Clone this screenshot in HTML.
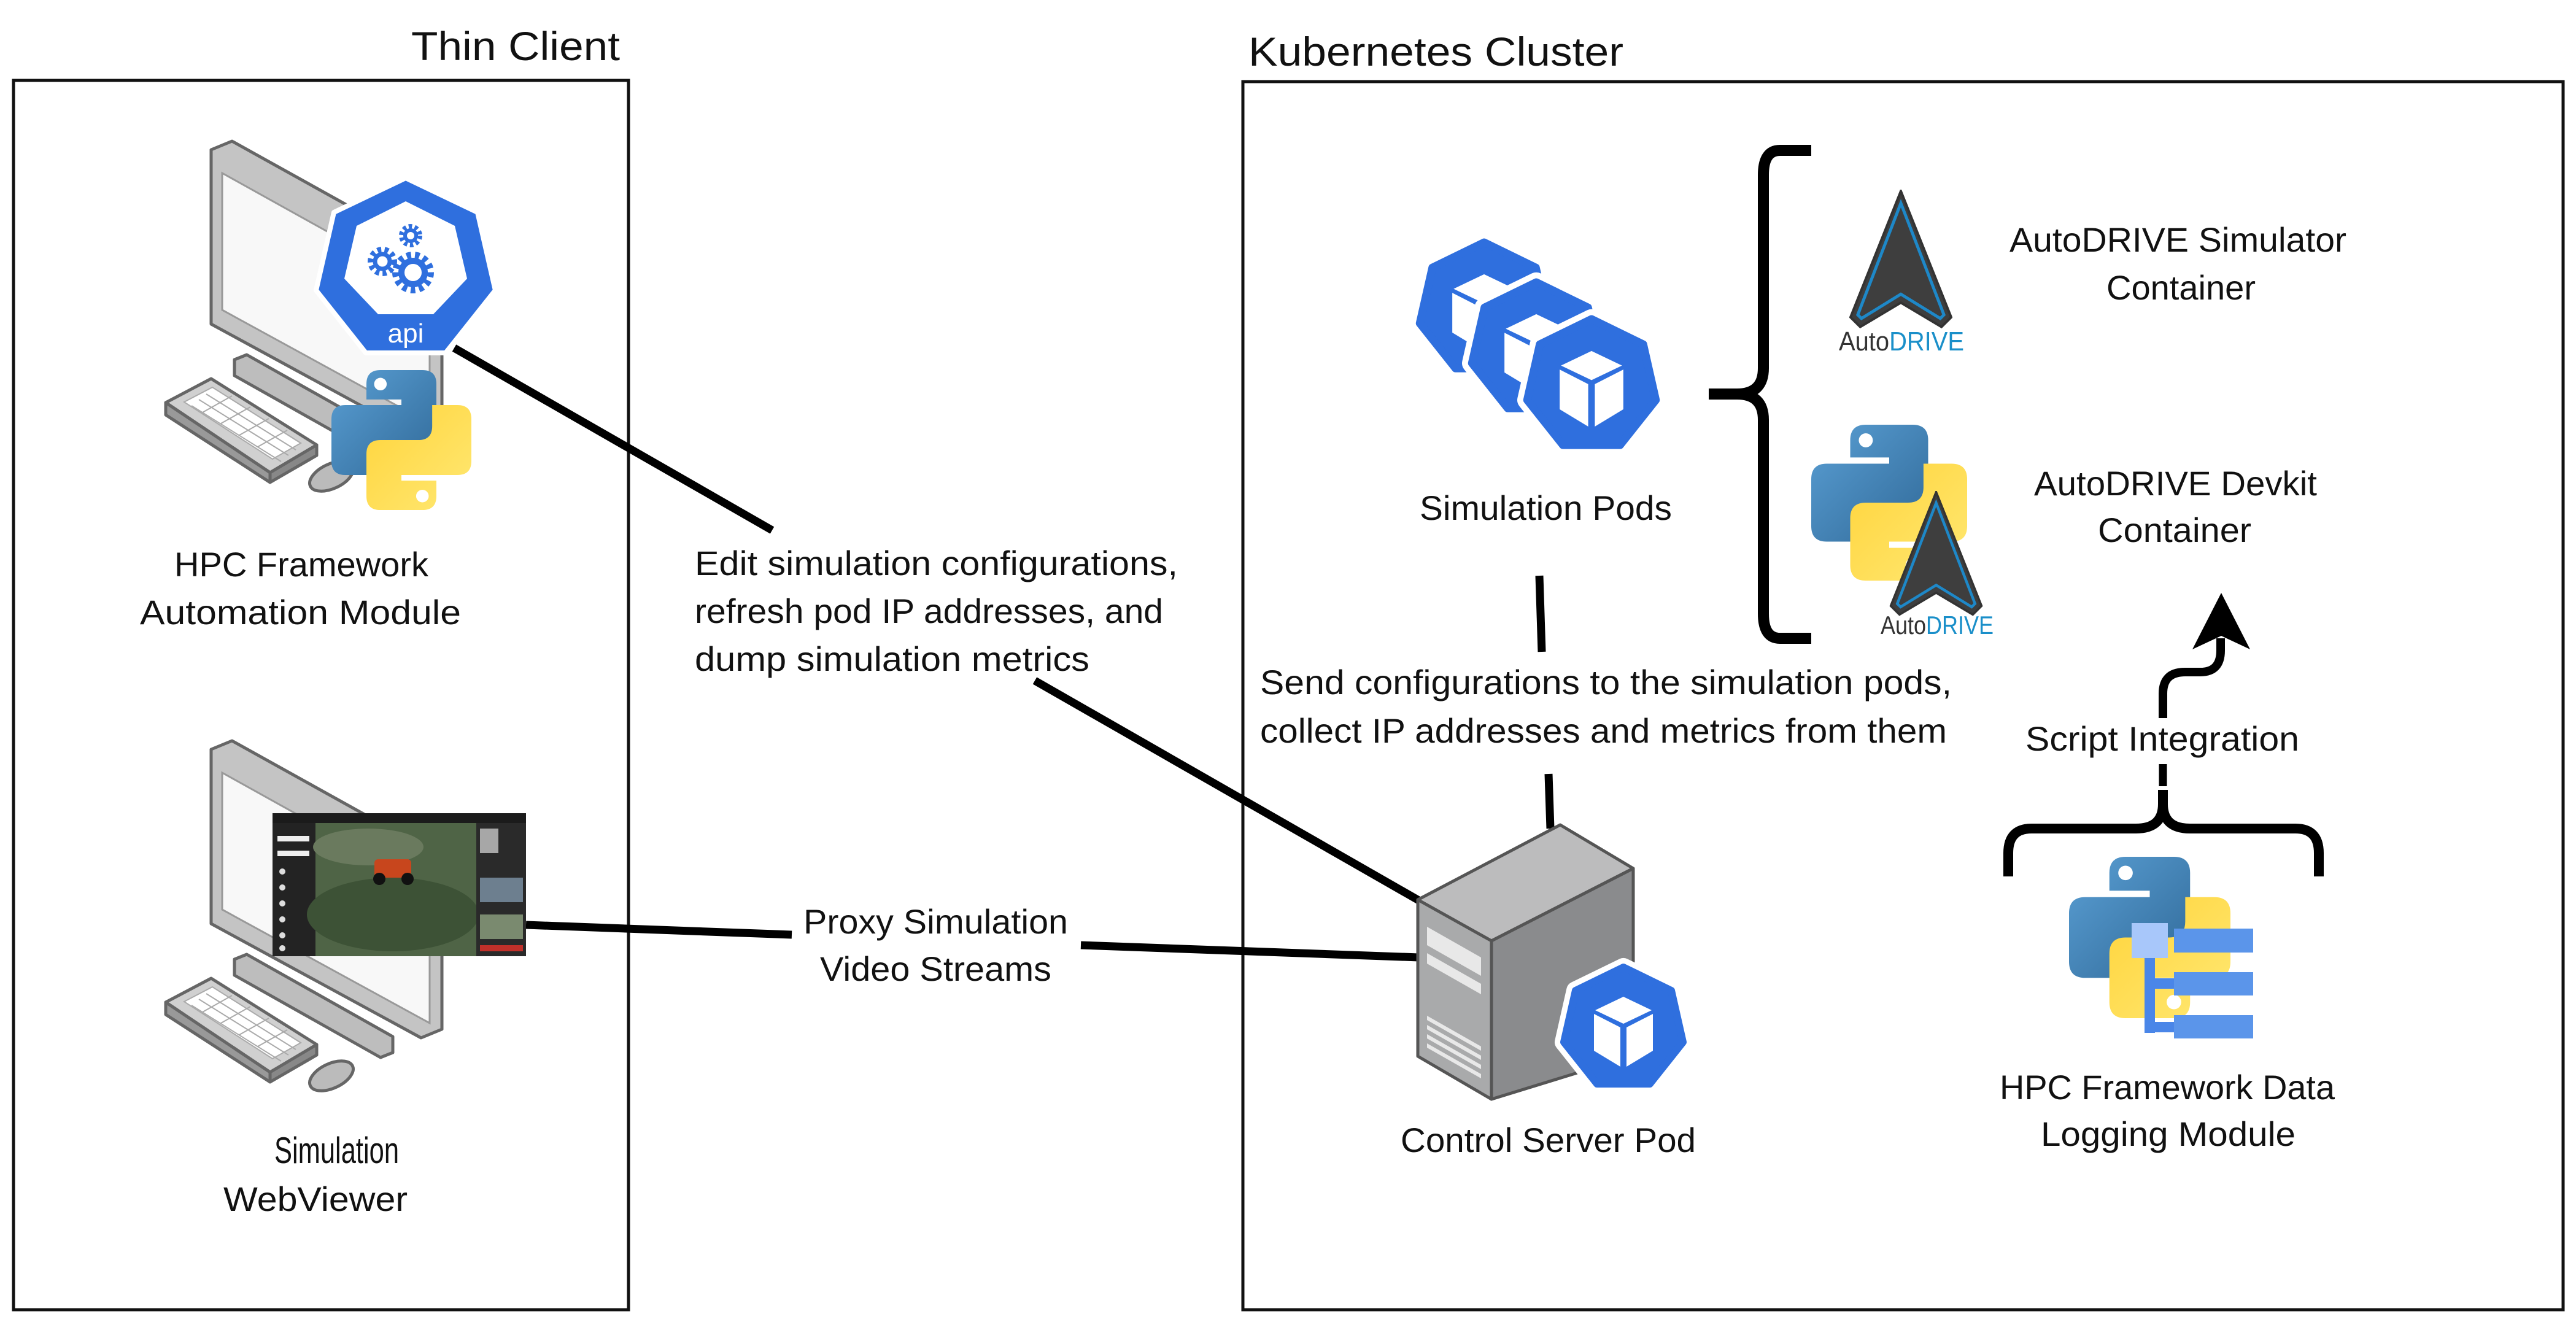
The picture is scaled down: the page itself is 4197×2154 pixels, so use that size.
<!DOCTYPE html>
<html><head><meta charset="utf-8"><style>
html,body{margin:0;padding:0;background:#fff;}
svg{display:block;}
text{font-family:"Liberation Sans",sans-serif;fill:#111;}
</style></head><body>
<svg width="4197" height="2154" viewBox="0 0 4197 2154" xmlns="http://www.w3.org/2000/svg">
<defs>
<linearGradient id="pb" x1="0" y1="0" x2="1" y2="1"><stop offset="0" stop-color="#5a9fd4"/><stop offset="1" stop-color="#306998"/></linearGradient>
<linearGradient id="py" x1="0" y1="0" x2="1" y2="1"><stop offset="0" stop-color="#ffe873"/><stop offset="1" stop-color="#ffd43b"/></linearGradient>
<symbol id="python" viewBox="0 0 100 100">
<path fill="url(#pb)" d="M35,0 H65 Q75,0 75,10 V40 Q75,50 65,50 H38 Q28,50 28,60 V75 H10 Q0,75 0,65 V35 Q0,25 10,25 H50 V21 H25 V10 Q25,0 35,0 Z"/>
<circle cx="35" cy="10" r="4.5" fill="#fff"/>
<g transform="rotate(180 50 50)"><path fill="url(#py)" d="M35,0 H65 Q75,0 75,10 V40 Q75,50 65,50 H38 Q28,50 28,60 V75 H10 Q0,75 0,65 V35 Q0,25 10,25 H50 V21 H25 V10 Q25,0 35,0 Z"/><circle cx="35" cy="10" r="4.5" fill="#fff"/></g>
</symbol>
<symbol id="podw" viewBox="-125 -125 250 250">
<polygon points="0,-100 78,-62 97,22 43,90 -43,90 -97,22 -78,-62" fill="#2f6fde" stroke="#fff" stroke-width="30" stroke-linejoin="round"/>
<polygon points="0,-100 78,-62 97,22 43,90 -43,90 -97,22 -78,-62" fill="#2f6fde" stroke="#2f6fde" stroke-width="12" stroke-linejoin="round"/>
<polygon points="0,-52 46,-30 0,-8 -46,-30" fill="#fff"/>
<polygon points="-48,-24 -5,-2 -5,62 -48,36" fill="#fff"/>
<polygon points="5,-2 48,-24 48,36 5,62" fill="#fff"/>
</symbol>
<symbol id="arrowAD" viewBox="0 0 170 230">
<polygon points="85,2 168,210 152,226 85,186 18,226 2,210" fill="#3e3e3e" stroke="#333" stroke-width="4"/>
<polygon points="85,22 156,206 150,212 85,172 20,212 14,206" fill="none" stroke="#1e88c8" stroke-width="5"/>
</symbol>
<g id="computer">
<polygon points="344,244 378,230 720,420 720,700 686,714 344,528" fill="#c4c4c4" stroke="#666" stroke-width="5" stroke-linejoin="round"/>
<polygon points="362,282 700,470 700,690 362,505" fill="#f8f8f8" stroke="#999" stroke-width="3"/>
<polygon points="382,586 402,578 640,712 640,738 620,746 382,612" fill="#bdbdbd" stroke="#666" stroke-width="5" stroke-linejoin="round"/>
<polygon points="270,656 344,617 516,725 440,770" fill="#d0d0d0" stroke="#666" stroke-width="5" stroke-linejoin="round"/>
<polygon points="270,656 440,770 440,786 270,676" fill="#999" stroke="#666" stroke-width="5" stroke-linejoin="round"/>
<polygon points="440,770 516,725 516,742 440,786" fill="#888" stroke="#666" stroke-width="5" stroke-linejoin="round"/>
<polygon points="300,655 346,631 490,722 444,748" fill="#fff" stroke="#aaa" stroke-width="2"/>
<path d="M312,661 L458,752 M324,651 L470,742 M336,642 L482,733 M330,672 L378,645 M360,690 L408,663 M390,709 L438,682 M420,728 L468,701" stroke="#aaa" stroke-width="2"/>
<ellipse cx="540" cy="776" rx="38" ry="20" transform="rotate(-25 540 776)" fill="#bbb" stroke="#666" stroke-width="5"/>
</g>
</defs>

<rect x="22" y="131" width="1002" height="2003" fill="none" stroke="#111" stroke-width="5"/>
<rect x="2025" y="133" width="2151" height="2001" fill="none" stroke="#111" stroke-width="5"/>
<text x="670" y="98" font-size="66" textLength="340" lengthAdjust="spacingAndGlyphs">Thin Client</text>
<text x="2034" y="107" font-size="66" textLength="611" lengthAdjust="spacingAndGlyphs">Kubernetes Cluster</text>

<g stroke="#000" stroke-width="13" fill="none">
<line x1="740" y1="567" x2="1258" y2="864"/>
<line x1="1686" y1="1109" x2="2315" y2="1469"/>
<line x1="857" y1="1507" x2="1290" y2="1523"/>
<line x1="1761" y1="1540" x2="2312" y2="1560"/>
<line x1="2508" y1="938" x2="2512" y2="1062"/>
<line x1="2523" y1="1261" x2="2526" y2="1350"/>
</g>

<use href="#computer"/>
<g transform="translate(661,440)">
<polygon points="0,-150 117,-94 146,33 65,135 -65,135 -146,33 -117,-94" fill="#2f6fde" stroke="#fff" stroke-width="8" stroke-linejoin="round"/>
<polygon points="0,-112 80,-72 100,14 45,72 -45,72 -100,14 -80,-72" fill="#fff"/>
<g fill="none" stroke="#2f6fde">
<circle cx="-38" cy="-14" r="18" stroke-width="12" stroke-dasharray="6 5"/>
<circle cx="-38" cy="-14" r="12" stroke-width="7"/>
<circle cx="8" cy="-56" r="14" stroke-width="10" stroke-dasharray="5 4"/>
<circle cx="8" cy="-56" r="9" stroke-width="6"/>
<circle cx="12" cy="4" r="27" stroke-width="14" stroke-dasharray="7 6"/>
<circle cx="12" cy="4" r="19" stroke-width="10"/>
</g>
<text x="0" y="118" font-size="44" text-anchor="middle" style="fill:#fff">api</text>
</g>
<use href="#python" x="540" y="603" width="228" height="228"/>
<text x="284" y="939" font-size="56" textLength="414" lengthAdjust="spacingAndGlyphs">HPC Framework</text>
<text x="228" y="1017" font-size="56" textLength="523" lengthAdjust="spacingAndGlyphs">Automation Module</text>

<g transform="translate(0,977)"><use href="#computer"/></g>
<g>
<rect x="444" y="1325" width="413" height="233" fill="#2a2f2a"/>
<rect x="444" y="1325" width="413" height="16" fill="#1b1b1b"/>
<rect x="444" y="1341" width="70" height="217" fill="#232323"/>
<rect x="452" y="1362" width="52" height="9" fill="#eee"/>
<rect x="452" y="1386" width="52" height="9" fill="#eee"/>
<circle cx="460" cy="1420" r="5" fill="#ddd"/><circle cx="460" cy="1446" r="5" fill="#ddd"/><circle cx="460" cy="1472" r="5" fill="#ddd"/><circle cx="460" cy="1498" r="5" fill="#ddd"/><circle cx="460" cy="1524" r="5" fill="#ddd"/><circle cx="460" cy="1545" r="5" fill="#ddd"/>
<rect x="514" y="1341" width="262" height="217" fill="#4f6446"/>
<ellipse cx="640" cy="1490" rx="140" ry="60" fill="#3d5236"/>
<ellipse cx="600" cy="1380" rx="90" ry="30" fill="#6a7a5e"/>
<rect x="610" y="1400" width="60" height="30" rx="6" fill="#c8461d"/>
<circle cx="618" cy="1432" r="10" fill="#111"/><circle cx="664" cy="1432" r="10" fill="#111"/>
<rect x="776" y="1341" width="81" height="217" fill="#2a2a2a"/>
<rect x="782" y="1350" width="30" height="40" fill="#ddd" opacity=".7"/>
<rect x="782" y="1430" width="70" height="40" fill="#6d7f8f"/>
<rect x="782" y="1490" width="70" height="40" fill="#7a8a6f"/>
<rect x="782" y="1540" width="70" height="10" fill="#c0302a"/>
</g>
<text x="447" y="1895" font-size="60" textLength="203" lengthAdjust="spacingAndGlyphs">Simulation</text>
<text x="364" y="1973" font-size="56" textLength="300" lengthAdjust="spacingAndGlyphs">WebViewer</text>

<text x="1132" y="937" font-size="56" textLength="787" lengthAdjust="spacingAndGlyphs">Edit simulation configurations,</text>
<text x="1132" y="1015" font-size="56" textLength="763" lengthAdjust="spacingAndGlyphs">refresh pod IP addresses, and</text>
<text x="1132" y="1093" font-size="56" textLength="643" lengthAdjust="spacingAndGlyphs">dump simulation metrics</text>
<text x="1309" y="1521" font-size="56" textLength="431" lengthAdjust="spacingAndGlyphs">Proxy Simulation</text>
<text x="1336" y="1598" font-size="56" textLength="377" lengthAdjust="spacingAndGlyphs">Video Streams</text>
<text x="2053" y="1131" font-size="56" textLength="1127" lengthAdjust="spacingAndGlyphs">Send configurations to the simulation pods,</text>
<text x="2053" y="1210" font-size="56" textLength="1119" lengthAdjust="spacingAndGlyphs">collect IP addresses and metrics from them</text>

<use href="#podw" x="2283" y="368" width="270" height="270"/>
<use href="#podw" x="2368" y="433" width="270" height="270"/>
<use href="#podw" x="2458" y="493" width="270" height="270"/>
<text x="2313" y="847" font-size="56" textLength="411" lengthAdjust="spacingAndGlyphs">Simulation Pods</text>

<path d="M2951,245 H2900 Q2873,245 2873,285 V600 Q2873,642 2830,642 H2784 M2830,642 Q2873,642 2873,684 V1000 Q2873,1040 2900,1040 H2951" fill="none" stroke="#000" stroke-width="18"/>

<use href="#arrowAD" x="3013" y="309" width="168" height="228"/>
<text x="2996" y="571" font-size="44" textLength="204" lengthAdjust="spacingAndGlyphs"><tspan style="fill:#333">Auto</tspan><tspan style="fill:#1a8fc9">DRIVE</tspan></text>
<text x="3274" y="410" font-size="56" textLength="549" lengthAdjust="spacingAndGlyphs">AutoDRIVE Simulator</text>
<text x="3432" y="488" font-size="56" textLength="243" lengthAdjust="spacingAndGlyphs">Container</text>

<use href="#python" x="2951" y="691" width="254" height="256"/>
<use href="#arrowAD" x="3078" y="800" width="153" height="205"/>
<text x="3064" y="1033" font-size="42" textLength="184" lengthAdjust="spacingAndGlyphs"><tspan style="fill:#333">Auto</tspan><tspan style="fill:#1a8fc9">DRIVE</tspan></text>
<text x="3314" y="807" font-size="56" textLength="461" lengthAdjust="spacingAndGlyphs">AutoDRIVE Devkit</text>
<text x="3418" y="883" font-size="56" textLength="250" lengthAdjust="spacingAndGlyphs">Container</text>

<path d="M3524,1170 V1130 Q3524,1095 3560,1095 H3585 Q3618,1095 3618,1060 V1040" fill="none" stroke="#000" stroke-width="14"/>
<polygon points="3619,966 3666,1058 3619,1036 3572,1058" fill="#000"/>
<text x="3300" y="1223" font-size="56" textLength="446" lengthAdjust="spacingAndGlyphs">Script Integration</text>
<line x1="3524" y1="1245" x2="3524" y2="1281" stroke="#000" stroke-width="13"/>
<path d="M3272,1428 V1390 Q3272,1350 3310,1350 H3480 Q3524,1350 3524,1310 V1287 M3524,1310 Q3524,1350 3568,1350 H3740 Q3778,1350 3778,1390 V1428" fill="none" stroke="#000" stroke-width="16"/>

<use href="#python" x="3371" y="1392" width="263" height="271"/>
<rect x="3473" y="1504" width="59" height="57" fill="#a8c7fa"/>
<rect x="3494" y="1561" width="17" height="122" fill="#4a86e8"/>
<rect x="3511" y="1594" width="31" height="17" fill="#4a86e8"/>
<rect x="3494" y="1665" width="48" height="17" fill="#4a86e8"/>
<rect x="3542" y="1513" width="129" height="39" fill="#5b95ea"/>
<rect x="3542" y="1584" width="129" height="38" fill="#5b95ea"/>
<rect x="3542" y="1654" width="129" height="38" fill="#5b95ea"/>
<text x="3258" y="1791" font-size="56" textLength="546" lengthAdjust="spacingAndGlyphs">HPC Framework Data</text>
<text x="3325" y="1867" font-size="56" textLength="415" lengthAdjust="spacingAndGlyphs">Logging Module</text>

<polygon points="2310,1466 2542,1344 2661,1415 2430,1533" fill="#bcbcbd" stroke="#555" stroke-width="5" stroke-linejoin="round"/>
<polygon points="2430,1533 2661,1415 2661,1720 2430,1791" fill="#8a8b8d" stroke="#555" stroke-width="5" stroke-linejoin="round"/>
<polygon points="2310,1466 2430,1533 2430,1791 2310,1721" fill="#a9aaab" stroke="#555" stroke-width="5" stroke-linejoin="round"/>
<g fill="#e8e8e8">
<polygon points="2325,1510 2413,1560 2413,1590 2325,1540"/>
<polygon points="2325,1553 2413,1603 2413,1620 2325,1570"/>
<polygon points="2325,1655 2413,1705 2413,1712 2325,1662"/>
<polygon points="2325,1670 2413,1720 2413,1727 2325,1677"/>
<polygon points="2325,1685 2413,1735 2413,1742 2325,1692"/>
<polygon points="2325,1700 2413,1750 2413,1757 2325,1707"/>
</g>
<use href="#podw" x="2520" y="1551" width="250" height="250"/>
<text x="2282" y="1877" font-size="56" textLength="481" lengthAdjust="spacingAndGlyphs">Control Server Pod</text>
</svg>
</body></html>
